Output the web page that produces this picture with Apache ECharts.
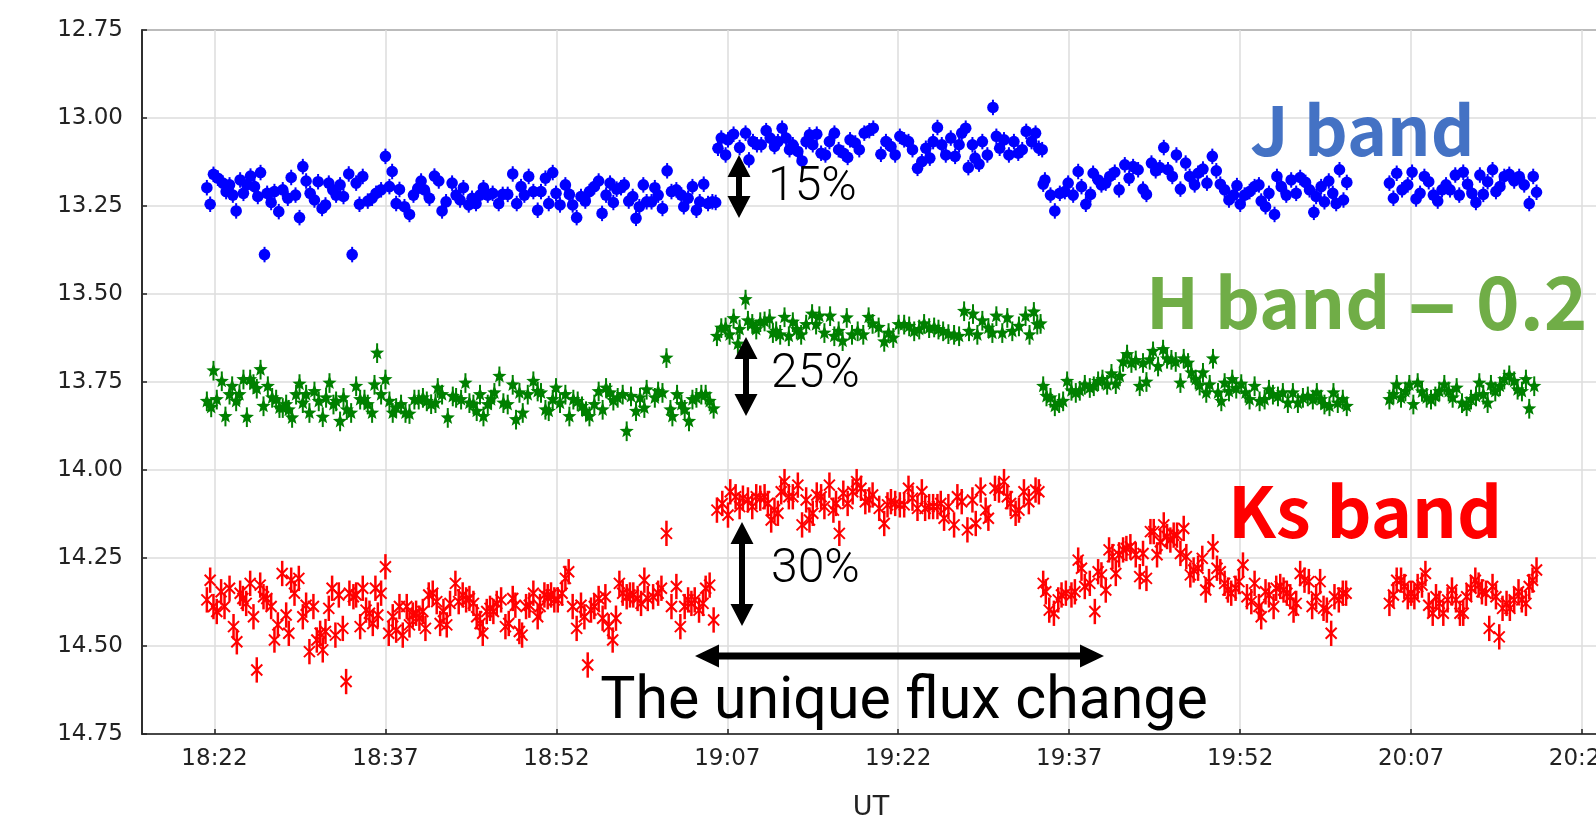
<!DOCTYPE html>
<html><head><meta charset="utf-8">
<script src="https://cdn.jsdelivr.net/npm/echarts@6/dist/echarts.min.js"></script>
<style>html,body{margin:0;padding:0;background:#fff}#c{width:1596px;height:818px}</style>
</head><body><div id="c"></div>
<script>
// time in minutes after 18:00 UT, magnitude
const xTickMinutes = [22, 37, 52, 67, 82, 97, 112, 127, 142];
const yTicks = [12.75, 13.00, 13.25, 13.50, 13.75, 14.00, 14.25, 14.50, 14.75];

const jBand = [
[21.33,13.198],[21.62,13.245],[21.91,13.160],[22.29,13.171],[22.73,13.185],[23.02,13.209],[23.32,13.190],[23.61,13.219],[23.90,13.264],[24.25,13.176],[24.54,13.214],[24.84,13.190],[25.16,13.165],[25.51,13.195],[25.80,13.223],[26.04,13.155],[26.39,13.388],[26.62,13.214],[26.97,13.240],[27.26,13.209],[27.64,13.266],[27.99,13.204],[28.43,13.228],[28.73,13.169],[29.11,13.219],[29.46,13.283],[29.75,13.138],[30.04,13.179],[30.39,13.214],[30.77,13.233],[31.09,13.181],[31.44,13.257],[31.74,13.247],[32.03,13.185],[32.38,13.204],[32.67,13.219],[33.02,13.190],[33.32,13.223],[33.78,13.159],[34.08,13.388],[34.43,13.185],[34.72,13.245],[35.01,13.166],[35.45,13.236],[35.83,13.228],[36.18,13.214],[36.62,13.204],[37.00,13.109],[37.35,13.195],[37.59,13.152],[37.94,13.243],[38.23,13.203],[38.67,13.252],[39.11,13.274],[39.46,13.219],[39.84,13.200],[40.13,13.179],[40.42,13.204],[40.86,13.228],[41.30,13.165],[41.68,13.179],[41.97,13.264],[42.32,13.238],[42.85,13.185],[43.20,13.219],[43.55,13.233],[43.84,13.198],[44.31,13.247],[44.60,13.228],[44.95,13.243],[45.30,13.219],[45.60,13.198],[45.98,13.219],[46.41,13.214],[46.94,13.243],[47.29,13.217],[47.73,13.217],[48.17,13.159],[48.52,13.243],[48.90,13.195],[49.19,13.219],[49.57,13.166],[49.98,13.209],[50.36,13.262],[50.65,13.209],[51.04,13.171],[51.33,13.243],[51.68,13.155],[51.97,13.214],[52.32,13.247],[52.79,13.190],[53.14,13.217],[53.43,13.247],[53.78,13.283],[54.16,13.223],[54.54,13.236],[54.90,13.209],[55.33,13.195],[55.71,13.179],[56.01,13.271],[56.36,13.219],[56.71,13.185],[57.00,13.240],[57.29,13.202],[57.67,13.198],[57.96,13.190],[58.35,13.236],[58.70,13.223],[58.99,13.285],[59.28,13.252],[59.63,13.190],[59.92,13.238],
[60.35,13.238],[60.64,13.198],[60.93,13.219],[61.31,13.257],[61.72,13.150],[62.10,13.209],[62.53,13.204],[62.97,13.219],[63.18,13.252],[63.56,13.228],[63.94,13.195],[64.29,13.262],[64.58,13.238],[64.93,13.188],[65.31,13.243],[65.69,13.238],[65.98,13.240],
[66.18,13.086],[66.47,13.057],[66.85,13.105],[67.06,13.062],[67.55,13.046],[68.08,13.084],[68.60,13.043],[68.90,13.119],[69.25,13.067],[69.60,13.076],[69.98,13.076],[70.41,13.036],[70.76,13.057],[71.14,13.081],[71.44,13.067],[71.81,13.029],[72.16,13.057],[72.46,13.090],[72.75,13.076],[73.19,13.095],[73.56,13.122],[73.91,13.067],[74.21,13.048],[74.50,13.076],[74.85,13.046],[75.23,13.100],[75.61,13.105],[75.96,13.067],[76.40,13.043],[76.77,13.090],[77.18,13.100],[77.56,13.112],[77.77,13.062],[78.23,13.071],[78.58,13.090],[79.02,13.043],[79.46,13.036],[79.81,13.029],[80.48,13.103],[80.92,13.067],[81.36,13.081],[81.73,13.105],[82.14,13.052],[82.52,13.062],[82.90,13.067],[83.25,13.090],[83.69,13.143],[84.07,13.124],[84.42,13.086],[84.77,13.114],[85.06,13.067],[85.44,13.027],[85.82,13.076],[86.17,13.105],[86.61,13.057],[86.99,13.109],[87.34,13.076],[87.57,13.043],[87.92,13.029],[88.15,13.141],[88.51,13.076],[88.74,13.114],[89.09,13.131],[89.38,13.067],[89.82,13.105],[90.31,12.970],[90.61,13.052],[90.90,13.086],[91.28,13.062],[91.71,13.105],[92.15,13.067],[92.53,13.100],[92.88,13.090],[93.23,13.038],[93.70,13.067],[94.05,13.043],[94.33,13.086],[94.63,13.090],
[94.72,13.188],[94.87,13.176],[95.36,13.219],[95.74,13.264],[96.18,13.214],[96.62,13.209],[96.91,13.185],[97.35,13.219],[97.79,13.152],[98.08,13.195],[98.46,13.245],[98.87,13.217],[99.10,13.157],[99.54,13.176],[99.83,13.190],[100.21,13.185],[100.56,13.166],[101.00,13.154],[101.38,13.204],[101.88,13.133],[102.26,13.171],[102.61,13.138],[103.05,13.147],[103.48,13.202],[103.78,13.217],[104.22,13.128],[104.59,13.150],[104.95,13.141],[105.30,13.084],[105.67,13.147],[106.05,13.166],[106.41,13.105],[106.76,13.202],[107.22,13.128],[107.57,13.166],[108.01,13.190],[108.31,13.157],[108.74,13.145],[109.09,13.185],[109.56,13.109],[109.91,13.150],[110.26,13.188],[110.64,13.204],[111.02,13.233],[111.43,13.219],[111.72,13.192],[112.01,13.245],[112.39,13.219],[112.83,13.209],[113.27,13.195],[113.65,13.190],[113.85,13.236],[114.23,13.252],[114.53,13.214],[115.02,13.274],[115.23,13.166],[115.61,13.195],[116.05,13.219],[116.48,13.176],[116.92,13.214],[117.27,13.169],[117.74,13.183],[118.09,13.204],[118.47,13.268],[118.67,13.223],[119.11,13.195],[119.40,13.238],[119.78,13.179],[120.13,13.214],[120.43,13.243],[120.72,13.147],[121.07,13.233],[121.36,13.183],
[125.10,13.185],[125.45,13.228],[125.74,13.157],[126.21,13.204],[126.71,13.190],[127.09,13.154],[127.44,13.230],[127.79,13.214],[128.17,13.166],[128.55,13.181],[128.96,13.219],[129.34,13.236],[129.72,13.204],[130.07,13.190],[130.42,13.204],[130.88,13.162],[131.23,13.219],[131.58,13.154],[131.96,13.188],[132.34,13.214],[132.69,13.240],[133.04,13.162],[133.34,13.217],[133.72,13.181],[134.15,13.147],[134.45,13.209],[134.80,13.195],[135.18,13.166],[135.62,13.160],[136.05,13.179],[136.49,13.166],[136.93,13.190],[137.37,13.243],[137.72,13.166],[138.01,13.211]
];

const hBand = [
[21.33,13.805],[21.71,13.822],[21.91,13.718],[22.20,13.800],[22.64,13.748],[22.96,13.848],[23.32,13.786],[23.55,13.762],[23.90,13.805],[24.19,13.786],[24.54,13.743],[24.84,13.850],[25.13,13.743],[25.42,13.756],[25.71,13.769],[26.04,13.715],[26.30,13.819],[26.68,13.762],[27.06,13.795],[27.41,13.800],[27.70,13.824],[27.99,13.824],[28.29,13.814],[28.52,13.829],[28.81,13.852],[29.16,13.786],[29.46,13.756],[29.75,13.810],[30.04,13.786],[30.33,13.838],[30.77,13.777],[31.15,13.805],[31.50,13.850],[31.79,13.795],[32.09,13.753],[32.44,13.814],[32.67,13.805],[33.02,13.862],[33.32,13.795],[33.61,13.829],[33.99,13.838],[34.43,13.762],[34.78,13.800],[35.16,13.800],[35.45,13.814],[35.83,13.838],[36.04,13.758],[36.27,13.668],[36.62,13.786],[37.00,13.743],[37.35,13.805],[37.64,13.838],[37.94,13.824],[38.37,13.814],[38.76,13.838],[39.11,13.841],[39.54,13.800],[39.92,13.800],[40.29,13.795],[40.63,13.805],[41.01,13.813],[41.39,13.810],[41.59,13.767],[41.97,13.786],[42.47,13.852],[42.91,13.791],[43.20,13.795],[43.64,13.800],[44.02,13.753],[44.37,13.810],[44.72,13.814],[45.01,13.833],[45.30,13.786],[45.60,13.848],[45.98,13.814],[46.27,13.800],[46.56,13.781],[47.00,13.734],[47.35,13.810],[47.73,13.814],[48.17,13.758],[48.46,13.857],[48.76,13.781],[49.05,13.838],[49.49,13.786],[49.98,13.748],[50.36,13.777],[50.65,13.781],[51.04,13.829],[51.33,13.833],[51.68,13.800],[51.97,13.767],[52.32,13.810],[52.79,13.786],[53.14,13.848],[53.49,13.800],[53.87,13.805],[54.25,13.819],[54.60,13.833],[54.90,13.848],[55.33,13.814],[55.71,13.777],[56.06,13.829],[56.36,13.767],[56.71,13.781],[57.00,13.803],[57.38,13.795],[57.82,13.786],[58.17,13.890],[58.55,13.791],[58.99,13.833],[59.34,13.795],[59.72,13.824],[59.92,13.772],
[60.64,13.795],[60.93,13.777],[61.31,13.781],[61.66,13.682],[62.01,13.829],[62.18,13.848],[62.59,13.786],[62.97,13.814],[63.26,13.829],[63.64,13.862],[63.94,13.800],[64.29,13.795],[64.72,13.786],[65.10,13.786],[65.45,13.805],[65.80,13.826],
[66.09,13.620],[66.47,13.597],[66.85,13.595],[67.20,13.616],[67.55,13.570],[67.93,13.642],[68.08,13.601],[68.60,13.516],[68.81,13.576],[69.19,13.585],[69.54,13.601],[69.89,13.580],[70.27,13.578],[70.71,13.571],[71.00,13.611],[71.29,13.606],[71.64,13.616],[72.02,13.566],[72.40,13.620],[72.75,13.580],[73.10,13.601],[73.48,13.616],[73.92,13.587],[74.44,13.557],[74.79,13.587],[75.08,13.563],[75.52,13.611],[76.02,13.563],[76.39,13.620],[76.77,13.606],[77.12,13.634],[77.48,13.568],[77.94,13.616],[78.44,13.606],[78.93,13.616],[79.40,13.566],[79.75,13.585],[80.28,13.595],[80.77,13.636],[81.15,13.611],[81.56,13.625],[82.03,13.587],[82.52,13.587],[82.96,13.592],[83.40,13.606],[83.84,13.601],[84.27,13.585],[84.71,13.597],[85.15,13.595],[85.53,13.601],[85.94,13.606],[86.40,13.614],[86.90,13.616],[87.34,13.620],[87.78,13.549],[88.21,13.606],[88.56,13.557],[88.94,13.616],[89.38,13.576],[89.91,13.597],[90.26,13.611],[90.61,13.563],[91.13,13.611],[91.57,13.568],[92.01,13.606],[92.59,13.592],[93.17,13.563],[93.52,13.616],[93.90,13.551],[94.20,13.587],[94.49,13.585],
[94.72,13.762],[95.01,13.791],[95.36,13.795],[95.74,13.819],[96.12,13.810],[96.47,13.805],[96.82,13.748],[97.20,13.775],[97.58,13.781],[97.93,13.775],[98.37,13.758],[98.81,13.767],[99.16,13.762],[99.54,13.748],[99.92,13.743],[100.33,13.758],[100.71,13.727],[101.09,13.756],[101.44,13.734],[101.73,13.693],[102.08,13.672],[102.46,13.696],[102.84,13.689],[103.19,13.762],[103.48,13.696],[103.78,13.750],[104.07,13.687],[104.36,13.663],[104.80,13.706],[105.24,13.658],[105.59,13.684],[105.97,13.687],[106.35,13.693],[106.76,13.753],[107.05,13.684],[107.43,13.696],[107.72,13.724],[108.10,13.743],[108.45,13.760],[108.74,13.724],[109.03,13.781],[109.33,13.758],[109.62,13.684],[110.06,13.781],[110.35,13.805],[110.64,13.753],[111.02,13.777],[111.31,13.743],[111.66,13.769],[112.10,13.756],[112.48,13.781],[112.83,13.800],[113.27,13.762],[113.71,13.805],[114.15,13.800],[114.53,13.772],[114.88,13.786],[115.32,13.791],[115.75,13.781],[116.19,13.810],[116.63,13.781],[117.07,13.810],[117.51,13.795],[117.94,13.791],[118.38,13.800],[118.73,13.781],[119.11,13.800],[119.40,13.814],[119.84,13.819],[120.19,13.781],[120.57,13.810],[121.01,13.800],[121.36,13.819],
[125.10,13.800],[125.45,13.786],[125.74,13.758],[126.12,13.795],[126.50,13.777],[126.85,13.758],[127.20,13.814],[127.58,13.753],[127.96,13.778],[128.37,13.795],[128.75,13.800],[129.13,13.791],[129.48,13.777],[129.92,13.758],[130.30,13.777],[130.65,13.795],[131.00,13.767],[131.47,13.810],[131.88,13.819],[132.26,13.800],[132.70,13.791],[132.99,13.753],[133.34,13.786],[133.72,13.810],[134.01,13.758],[134.39,13.777],[134.80,13.762],[135.18,13.743],[135.62,13.731],[136.05,13.748],[136.35,13.772],[136.73,13.777],[137.08,13.743],[137.37,13.826],[137.81,13.762]
];

const ksBand = [
[21.33,14.369],[21.62,14.313],[21.91,14.388],[22.20,14.402],[22.58,14.346],[22.88,14.388],[23.32,14.336],[23.67,14.445],[23.96,14.488],[24.25,14.350],[24.49,14.365],[24.78,14.379],[25.13,14.322],[25.42,14.417],[25.71,14.568],[26.01,14.327],[26.30,14.360],[26.59,14.365],[26.97,14.388],[27.26,14.483],[27.56,14.440],[27.94,14.294],[28.29,14.412],[28.52,14.464],[28.73,14.313],[29.02,14.350],[29.40,14.308],[29.75,14.417],[30.04,14.384],[30.33,14.516],[30.68,14.388],[30.98,14.483],[31.27,14.464],[31.50,14.511],[31.74,14.459],[32.03,14.393],[32.32,14.336],[32.61,14.469],[32.91,14.355],[33.26,14.450],[33.55,14.601],[33.84,14.350],[34.19,14.360],[34.43,14.355],[34.78,14.445],[35.01,14.336],[35.30,14.398],[35.60,14.407],[35.89,14.436],[36.12,14.336],[36.33,14.412],[36.62,14.350],[37.00,14.275],[37.29,14.464],[37.64,14.417],[37.94,14.455],[38.23,14.388],[38.52,14.469],[38.87,14.388],[39.11,14.440],[39.40,14.412],[39.69,14.407],[39.98,14.421],[40.28,14.402],[40.51,14.450],[40.80,14.355],[41.15,14.350],[41.50,14.374],[41.80,14.436],[42.09,14.402],[42.38,14.440],[42.67,14.379],[43.14,14.322],[43.43,14.374],[43.78,14.355],[44.08,14.369],[44.37,14.365],[44.72,14.379],[45.01,14.417],[45.30,14.436],[45.54,14.464],[45.89,14.402],[46.18,14.393],[46.47,14.402],[46.77,14.379],[47.15,14.369],[47.53,14.445],[47.82,14.436],[48.17,14.365],[48.40,14.384],[48.75,14.459],[48.99,14.469],[49.34,14.388],[49.63,14.384],[49.98,14.350],[50.36,14.417],[50.57,14.388],[50.95,14.355],[51.24,14.360],[51.53,14.355],[51.82,14.369],[52.12,14.369],[52.50,14.350],[52.79,14.308],[53.08,14.289],[53.43,14.388],[53.78,14.450],[54.16,14.384],[54.46,14.417],[54.75,14.554],[55.04,14.398],[55.33,14.388],[55.71,14.365],[56.06,14.421],[56.30,14.360],[56.59,14.445],[56.94,14.483],[57.23,14.421],[57.53,14.322],[57.82,14.350],[58.17,14.360],[58.46,14.355],[58.75,14.355],[59.13,14.365],[59.43,14.379],[59.72,14.313],[60.02,14.365],
[60.49,14.360],[60.93,14.350],[61.22,14.336],[61.66,14.180],[62.10,14.388],[62.53,14.331],[62.88,14.445],[63.26,14.388],[63.56,14.369],[63.85,14.379],[64.14,14.369],[64.52,14.398],[64.87,14.379],[65.10,14.336],[65.45,14.327],[65.80,14.426],
[66.09,14.114],[66.56,14.095],[67.06,14.128],[67.26,14.062],[67.73,14.076],[68.08,14.104],[68.37,14.080],[68.81,14.085],[69.19,14.104],[69.54,14.076],[69.89,14.080],[70.27,14.076],[70.56,14.095],[70.85,14.142],[71.14,14.114],[71.44,14.123],[71.73,14.062],[72.02,14.033],[72.40,14.076],[72.75,14.076],[73.19,14.043],[73.56,14.156],[73.92,14.085],[74.21,14.142],[74.50,14.123],[74.85,14.071],[75.23,14.076],[75.52,14.104],[75.96,14.043],[76.31,14.114],[76.54,14.095],[76.83,14.180],[77.18,14.066],[77.56,14.095],[78.00,14.062],[78.35,14.033],[78.73,14.052],[79.11,14.090],[79.46,14.085],[79.75,14.071],[80.33,14.109],[80.77,14.152],[81.06,14.099],[81.36,14.090],[81.73,14.095],[82.14,14.099],[82.52,14.099],[82.90,14.052],[83.25,14.080],[83.69,14.109],[84.07,14.062],[84.36,14.109],[84.71,14.104],[85.06,14.104],[85.44,14.104],[85.73,14.095],[86.02,14.137],[86.40,14.104],[86.90,14.156],[87.19,14.076],[87.57,14.090],[88.07,14.170],[88.51,14.085],[88.80,14.152],[89.23,14.057],[89.67,14.114],[89.91,14.137],[90.49,14.052],[90.84,14.057],[91.28,14.033],[91.57,14.076],[91.86,14.095],[92.30,14.123],[92.59,14.114],[93.03,14.062],[93.46,14.090],[94.05,14.057],[94.34,14.062],
[94.72,14.322],[94.95,14.346],[95.25,14.398],[95.66,14.407],[96.04,14.369],[96.33,14.355],[96.71,14.350],[97.20,14.355],[97.50,14.346],[97.79,14.256],[98.08,14.279],[98.37,14.331],[98.81,14.322],[99.25,14.402],[99.54,14.289],[99.83,14.298],[100.21,14.341],[100.50,14.227],[100.80,14.246],[101.09,14.294],[101.38,14.241],[101.73,14.227],[102.02,14.223],[102.37,14.218],[102.84,14.241],[103.19,14.303],[103.48,14.237],[103.78,14.308],[104.13,14.175],[104.42,14.175],[104.71,14.241],[105.00,14.204],[105.30,14.156],[105.59,14.189],[105.88,14.199],[106.17,14.185],[106.46,14.185],[106.76,14.237],[107.05,14.166],[107.28,14.246],[107.63,14.298],[107.92,14.284],[108.31,14.279],[108.68,14.251],[108.98,14.341],[109.27,14.317],[109.62,14.218],[109.97,14.279],[110.26,14.289],[110.64,14.322],[110.93,14.341],[111.22,14.350],[111.60,14.336],[111.90,14.317],[112.25,14.270],[112.60,14.360],[112.98,14.374],[113.27,14.322],[113.65,14.388],[113.85,14.417],[114.23,14.346],[114.53,14.355],[114.94,14.388],[115.17,14.336],[115.52,14.331],[115.81,14.341],[116.10,14.350],[116.40,14.360],[116.69,14.398],[116.92,14.379],[117.27,14.294],[117.65,14.313],[118.03,14.317],[118.32,14.388],[118.67,14.360],[119.02,14.317],[119.32,14.393],[119.61,14.398],[119.99,14.464],[120.28,14.360],[120.66,14.369],[121.01,14.350],[121.30,14.350],
[125.10,14.379],[125.45,14.355],[125.74,14.313],[126.12,14.313],[126.41,14.331],[126.71,14.360],[127.00,14.350],[127.29,14.360],[127.58,14.331],[127.96,14.327],[128.26,14.294],[128.55,14.384],[128.90,14.407],[129.19,14.360],[129.48,14.379],[129.83,14.407],[130.21,14.369],[130.59,14.341],[130.94,14.369],[131.29,14.407],[131.58,14.407],[131.88,14.360],[132.26,14.336],[132.64,14.313],[132.93,14.327],[133.22,14.346],[133.57,14.350],[133.86,14.450],[134.15,14.331],[134.45,14.360],[134.74,14.474],[135.03,14.393],[135.38,14.379],[135.67,14.393],[136.05,14.369],[136.43,14.346],[136.72,14.369],[137.08,14.379],[137.37,14.331],[137.66,14.313],[138.01,14.284]
];

// error-bar half widths (mag)
const errJ = 0.022, errH = 0.028, errKs = 0.036;

function fmtTime(v) {
  const t = Math.round(v);
  const h = 18 + Math.floor(t / 60), m = t % 60;
  return h + ':' + (m < 10 ? '0' : '') + m;
}

function makeRender(kind, err, color) {
  return function (params, api) {
    const x = api.value(0), y = api.value(1);
    const c = api.coord([x, y]);
    const t = api.coord([x, y - err]);
    const b = api.coord([x, y + err]);
    const ch = [];
    ch.push({ type: 'line', shape: { x1: c[0], y1: t[1], x2: c[0], y2: b[1] },
      style: { stroke: color, lineWidth: kind === 'x' ? 2.5 : 2 } });
    if (kind === 'circle') {
      ch.push({ type: 'circle', shape: { cx: c[0], cy: c[1], r: 5.8 }, style: { fill: color } });
    } else if (kind === 'star') {
      const pts = [];
      for (let i = 0; i < 10; i++) {
        const r = i % 2 === 0 ? 7.5 : 3.2;
        const a = -Math.PI / 2 + i * Math.PI / 5;
        pts.push([c[0] + r * Math.cos(a), c[1] + r * Math.sin(a)]);
      }
      ch.push({ type: 'polygon', shape: { points: pts }, style: { fill: color } });
    } else {
      const s = 5.5;
      ch.push({ type: 'line', shape: { x1: c[0] - s, y1: c[1] - s, x2: c[0] + s, y2: c[1] + s }, style: { stroke: color, lineWidth: 2 } });
      ch.push({ type: 'line', shape: { x1: c[0] - s, y1: c[1] + s, x2: c[0] + s, y2: c[1] - s }, style: { stroke: color, lineWidth: 2 } });
    }
    return { type: 'group', children: ch };
  };
}

function vArrow(x, y1, y2) {
  const hw = 11.5, hl = 22, sw = 3;
  return { type: 'polygon', z: 100, shape: { points: [
    [x, y1], [x + hw, y1 + hl], [x + sw, y1 + hl], [x + sw, y2 - hl], [x + hw, y2 - hl],
    [x, y2], [x - hw, y2 - hl], [x - sw, y2 - hl], [x - sw, y1 + hl], [x - hw, y1 + hl]] },
    style: { fill: '#000' } };
}
function hArrow(y, x1, x2) {
  const hw = 11.5, hl = 24, sw = 3.5;
  return { type: 'polygon', z: 100, shape: { points: [
    [x1, y], [x1 + hl, y - hw], [x1 + hl, y - sw], [x2 - hl, y - sw], [x2 - hl, y - hw],
    [x2, y], [x2 - hl, y + hw], [x2 - hl, y + sw], [x1 + hl, y + sw], [x1 + hl, y + hw]] },
    style: { fill: '#000' } };
}
function label(text, x, y, font, color, align) {
  return { type: 'text', z: 100, x: x, y: y,
    style: { text: text, font: font, fill: color, align: align || 'left', verticalAlign: 'middle' } };
}

const chart = echarts.init(document.getElementById('c'), null, { renderer: 'canvas' });
const thin = '300 48px Roboto, Lato, "Noto Sans CJK JP", sans-serif';
const bold = 'bold 68px "Noto Sans CJK JP", "Noto Sans", sans-serif';
const boldH = 'bold 70px "Noto Sans CJK JP", "Noto Sans", sans-serif';

chart.setOption({
  animation: false,
  backgroundColor: '#fff',
  grid: { left: 142, right: -4, top: 30, bottom: 84, outerBoundsMode: 'none', containLabel: false,
    show: true, borderColor: '#222', borderWidth: 1.5 },
  xAxis: {
    type: 'value', min: 15.638, max: 143.58,
    name: 'UT', nameLocation: 'middle', nameGap: 60,
    nameTextStyle: { fontFamily: 'DejaVu Sans', fontSize: 27, color: '#222' },
    axisLine: { show: true, lineStyle: { color: '#222', width: 1.5 } },
    axisTick: { show: true, inside: true, length: 5, customValues: xTickMinutes, lineStyle: { color: '#222', width: 1.5 } },
    axisLabel: { customValues: xTickMinutes, formatter: fmtTime, fontFamily: 'DejaVu Sans', fontSize: 23, color: '#222', margin: 14, showMaxLabel: true },
    splitLine: { show: true, lineStyle: { color: '#dcdcdc', width: 1.5 } }
  },
  yAxis: {
    type: 'value', inverse: true, min: 12.75, max: 14.75, interval: 0.25,
    axisLine: { show: true, lineStyle: { color: '#222', width: 1.5 } },
    axisTick: { show: true, inside: true, length: 5, lineStyle: { color: '#222', width: 1.5 } },
    axisLabel: { formatter: v => v.toFixed(2), fontFamily: 'DejaVu Sans', fontSize: 23, color: '#222', margin: 19 },
    splitLine: { show: true, lineStyle: { color: '#dcdcdc', width: 1.5 } }
  },
  series: [
    { type: 'custom', name: 'J', coordinateSystem: 'cartesian2d', encode: { x: 0, y: 1 }, clip: true,
      data: jBand, renderItem: makeRender('circle', errJ, '#0000ff') },
    { type: 'custom', name: 'H', coordinateSystem: 'cartesian2d', encode: { x: 0, y: 1 }, clip: true,
      data: hBand, renderItem: makeRender('star', errH, '#008000') },
    { type: 'custom', name: 'Ks', coordinateSystem: 'cartesian2d', encode: { x: 0, y: 1 }, clip: true,
      data: ksBand, renderItem: makeRender('x', errKs, '#ff0000') }
  ],
  graphic: [
    vArrow(739, 155, 218),
    vArrow(746, 337, 416),
    vArrow(742, 522, 626),
    hArrow(656, 695, 1104),
    label('15%', 768, 188, thin, '#000'),
    label('25%', 771, 375, thin, '#000'),
    label('30%', 771, 570, thin, '#000'),
    label('The unique flux change', 904, 703, '59px Roboto, Lato, "Noto Sans CJK JP", sans-serif', '#000', 'center'),
    label('J band', 1250, 130, bold, '#4472c4'),
    label('H band', 1146, 302, boldH, '#70ad47'),
    label('–', 1432, 300, 'bold 92px "Noto Sans CJK JP", "Noto Sans", sans-serif', '#70ad47', 'center'),
    label('0.2', 1476, 302, 'bold 74px "Noto Sans CJK JP", "Noto Sans", sans-serif', '#70ad47'),
    label('Ks band', 1228, 511, 'bold 70px "Noto Sans CJK JP", "Noto Sans", sans-serif', '#ff0000')
  ]
});
</script>
</body></html>
